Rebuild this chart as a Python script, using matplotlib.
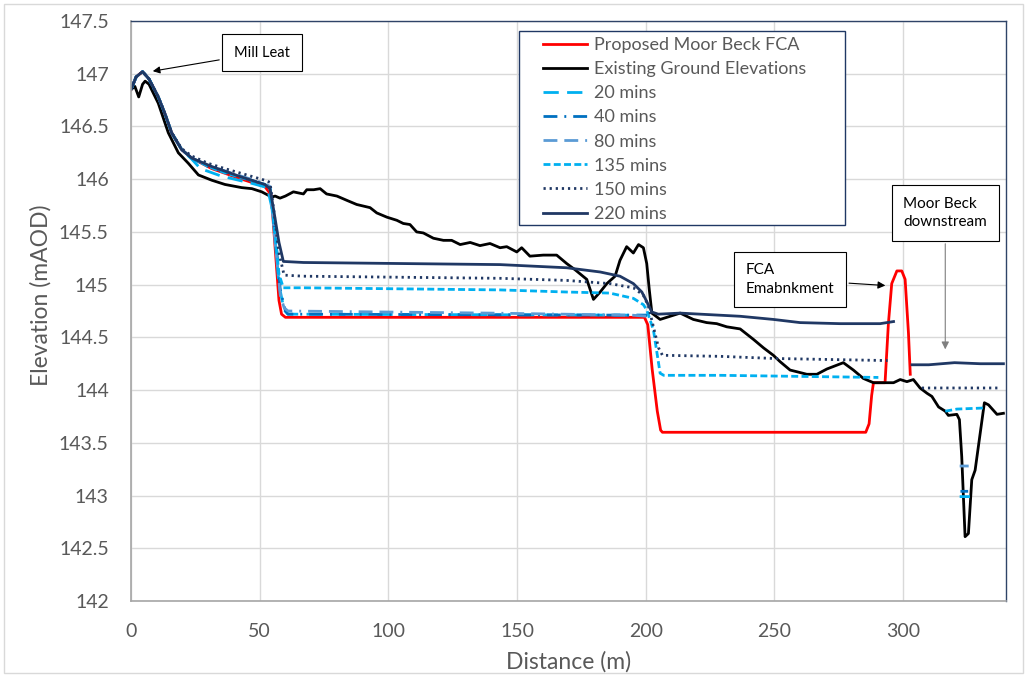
import numpy as np
import matplotlib
matplotlib.use('Agg')
import matplotlib.pyplot as plt
from matplotlib.patches import Rectangle

plt.rcParams['font.family'] = ['Lato', 'DejaVu Sans']

nan = np.nan

# existing ground profile
ground_x = [0, 1.5, 3, 4.5, 5.5, 7, 10.6, 14.5, 18.4, 22.3, 26.2, 31.4, 36.5, 43, 47, 50.8, 54.7, 56,
            57.9, 60, 63.1, 65, 67, 68.3, 71, 73.5, 76, 80, 83.8, 87.7, 92.9, 95.5, 99.4, 103.3, 105.8,
            108.4, 111, 113.6, 117.5, 121.4, 124.6, 127.9, 131.8, 135.6, 139.5, 143.4, 146, 149.9, 151.8,
            155, 160.2, 165.4, 169.3, 172.6, 177.1, 179.7, 182.3, 184.9, 188.1, 190, 192.6, 195.2, 197.2,
            199.1, 200.4, 201.4, 202.4, 205.6, 209.5, 213.4, 218.5, 223.7, 227.6, 231.5, 236.7, 241.9,
            245.8, 249.6, 252.2, 256.1, 259.4, 262.6, 266.5, 270.4, 276.8, 280.7, 284.6, 288.5, 292.4,
            296.3, 298.9, 301.5, 304, 306.6, 309.3, 311.2, 313.8, 316.4, 317.6, 320.9, 321.9, 322.8,
            324.1, 325.4, 326.7, 328, 331.6, 333.2, 336.5, 339]
ground_y = [146.85, 146.88, 146.78, 146.9, 146.93, 146.9, 146.72, 146.44, 146.25, 146.15, 146.04, 145.99,
            145.95, 145.92, 145.91, 145.88, 145.83, 145.84, 145.82, 145.84, 145.88, 145.87, 145.86, 145.9,
            145.9, 145.91, 145.86, 145.84, 145.8, 145.76, 145.73, 145.68, 145.64, 145.61, 145.58, 145.57,
            145.5, 145.49, 145.44, 145.42, 145.42, 145.38, 145.4, 145.37, 145.39, 145.35, 145.36, 145.31,
            145.35, 145.27, 145.28, 145.28, 145.2, 145.14, 145.05, 144.86, 144.93, 145.01, 145.08, 145.23,
            145.36, 145.3, 145.38, 145.35, 145.2, 144.95, 144.73, 144.67, 144.7, 144.73, 144.67, 144.64,
            144.63, 144.6, 144.58, 144.48, 144.4, 144.33, 144.27, 144.19, 144.17, 144.15, 144.15, 144.2,
            144.26, 144.19, 144.11, 144.07, 144.07, 144.07, 144.1, 144.08, 144.1, 144.02, 143.97, 143.94,
            143.84, 143.8, 143.76, 143.77, 143.72, 143.37, 142.61, 142.64, 143.15, 143.24, 143.88, 143.86,
            143.77, 143.78]

# proposed FCA profile
fca_x = [0, 2, 4.5, 7, 10.6, 13.2, 15.8, 19.7, 23.6, 31.4, 43, 52, 54.5, 57.5, 58.5, 60, 199.5, 200.8, 202.5,
         204.5, 205.8, 206.5, 285.5, 286.8, 287.8, 288.5, 293, 294.3, 295.6, 297.6, 299.5, 300.8, 302.1, 302.8]
fca_y = [146.85, 146.97, 147.02, 146.95, 146.78, 146.62, 146.44, 146.28, 146.2, 146.1, 146.0, 145.93, 145.85,
         144.85, 144.72, 144.69, 144.69, 144.62, 144.2, 143.8, 143.62, 143.6, 143.6, 143.68, 143.95, 144.07,
         144.07, 144.63, 145.01, 145.13, 145.13, 145.05, 144.54, 144.15]

# water levels at each time step (nan = gap in the series)
w20_x = [0, 2, 4.5, 7, 10.6, 13.2, 15.8, 19.7, 23.6, 27, 35, 47, 53, 55, 57.5, 59.5, 61, 200.5, nan, 322, 326]
w20_y = [146.85, 146.97, 147.02, 146.95, 146.78, 146.62, 146.44, 146.28, 146.19, 146.1, 146.03, 145.96,
         145.92, 145.7, 145.0, 144.76, 144.72, 144.71, nan, 142.99, 142.99]

w40_x = [0, 2, 4.5, 7, 10.6, 13.2, 15.8, 19.7, 23.6, 30, 40, 52, 54, 56, 58, 60, 61, 200.5, nan, 322.3, 325.3]
w40_y = [146.85, 146.97, 147.02, 146.95, 146.78, 146.62, 146.44, 146.28, 146.2, 146.12, 146.04, 145.95,
         145.92, 145.5, 144.95, 144.75, 144.72, 144.71, nan, 143.04, 143.04]

w80_x = [0, 2, 4.5, 7, 10.6, 13.2, 15.8, 19.7, 23.6, 30, 40, 52, 54, 56, 58, 59.5, 61, 140, 195, 200.5, nan, 322, 325.5]
w80_y = [146.85, 146.97, 147.02, 146.95, 146.78, 146.62, 146.44, 146.28, 146.2, 146.13, 146.05, 145.96,
         145.93, 145.4, 144.9, 144.78, 144.75, 144.73, 144.71, 144.7, nan, 143.28, 143.28]

w135_x = [0, 2, 4.5, 7, 10.6, 13.2, 15.8, 19.7, 23.6, 30, 36.5, 45, 52, 54, 55.5, 57.5, 59.2, 67, 143.4,
          169.3, 186, 195.2, 199.1, 200.4, 203, 205.6, 207, 229, 290.4, nan, 316.4, 320.9, 331.3]
w135_y = [146.85, 146.97, 147.02, 146.95, 146.78, 146.62, 146.44, 146.28, 146.2, 146.12, 146.06, 146.0,
          145.95, 145.92, 145.6, 145.1, 144.97, 144.97, 144.95, 144.93, 144.92, 144.87, 144.81, 144.76,
          144.57, 144.16, 144.14, 144.14, 144.12, nan, 143.8, 143.82, 143.83]

w150_x = [0, 2, 4.5, 7, 10.6, 13.2, 15.8, 19.7, 23.6, 30, 36.5, 45, 52, 54, 55.5, 57.5, 59.5, 67, 143.4,
          169.3, 186, 195.2, 199.1, 201, 203, 205, 206.5, 229, 249.6, 294, nan, 307.3, 338]
w150_y = [146.85, 146.97, 147.02, 146.95, 146.78, 146.62, 146.44, 146.29, 146.22, 146.15, 146.1, 146.04,
          145.99, 145.97, 145.7, 145.3, 145.09, 145.08, 145.06, 145.04, 145.01, 144.97, 144.9, 144.8, 144.6,
          144.4, 144.33, 144.32, 144.3, 144.28, nan, 144.02, 144.02]

w220_x = [0, 2, 4.5, 7, 10.6, 13.2, 15.8, 19.7, 23.6, 31.4, 43, 52, 54, 55.5, 57.5, 59.2, 67, 143.4, 169.3,
          182.3, 190, 195.2, 198.5, 200.4, 202.4, 204.9, 213.4, 236.7, 249.6, 260, 275.5, 291.1, 296.3, nan,
          303.5, 310, 320, 330, 339]
w220_y = [146.85, 146.97, 147.02, 146.95, 146.78, 146.62, 146.44, 146.28, 146.2, 146.12, 146.02, 145.95,
          145.91, 145.7, 145.4, 145.22, 145.21, 145.19, 145.16, 145.12, 145.08, 145.01, 144.93, 144.84,
          144.74, 144.72, 144.73, 144.7, 144.67, 144.64, 144.63, 144.63, 144.65, nan, 144.24, 144.24,
          144.26, 144.25, 144.25]

xticks = [0, 50, 100, 150, 200, 250, 300]
yticks = [142, 142.5, 143, 143.5, 144, 144.5, 145, 145.5, 146, 146.5, 147, 147.5]

fig = plt.figure(figsize=(10.27, 6.77), dpi=100)
ax = fig.add_axes([131 / 1027, 1 - 601 / 677, 875 / 1027, 580 / 677])

lw = 2.0
ax.plot(fca_x, fca_y, color='#FF0000', lw=lw, label='Proposed Moor Beck FCA')
ax.plot(ground_x, ground_y, color='black', lw=lw, label='Existing Ground Elevations')
ax.plot(w20_x, w20_y, color='#00B0F0', lw=lw, ls=(0, (5.5, 3)), label='20 mins')
ax.plot(w40_x, w40_y, color='#0070C0', lw=lw, ls=(0, (5, 2.5, 0.7, 2.5)), label='40 mins')
ax.plot(w80_x, w80_y, color='#5B9BD5', lw=lw, ls=(0, (5, 2.5, 5, 2.5, 0.7, 2.5)), label='80 mins')
ax.plot(w135_x, w135_y, color='#00B0F0', lw=lw, ls=(0, (2.5, 1.2)), label='135 mins')
ax.plot(w150_x, w150_y, color='#203864', lw=lw, ls=(0, (0.8, 1.4)), label='150 mins')
ax.plot(w220_x, w220_y, color='#203864', lw=lw, label='220 mins')

ax.set_xlim(0, 340)
ax.set_ylim(142, 147.5)
ax.set_xticks(xticks)
ax.set_yticks(yticks)
ax.set_yticklabels(['%g' % v for v in yticks])
ax.tick_params(length=0, labelsize=14, labelcolor='#595959', pad=16)
ax.grid(True, color='#D9D9D9', lw=1)
ax.set_axisbelow(True)
for s in ['left', 'bottom']:
    ax.spines[s].set_color('#A6A6A6')
    ax.spines[s].set_linewidth(1.2)
for s in ['top', 'right']:
    ax.spines[s].set_color('#2F4468')
    ax.spines[s].set_linewidth(1.0)

ax.set_xlabel('Distance (m)', fontsize=16.5, color='#595959', labelpad=8)
ax.set_ylabel('Elevation (mAOD)', fontsize=16.5, color='#595959')
ax.yaxis.set_label_coords(-0.091, 0.528)

# legend: frame drawn separately so the inner margins match
leg = ax.legend(loc='upper left', bbox_to_anchor=(0.4709, 0.9724), fontsize=13, frameon=False,
                handlelength=2.45, handletextpad=0.38, labelspacing=0.45, borderpad=0, borderaxespad=0)
for t in leg.get_texts():
    t.set_color('#595959')
ax.add_patch(Rectangle((0.4434, 0.6483), 0.3726, 0.3345, transform=ax.transAxes, fill=False,
                       ec='#203864', lw=1.0, zorder=6))
ax.add_patch(Rectangle((0.4434, 0.6483), 0.3726, 0.3345, transform=ax.transAxes, fc='white',
                       ec='none', zorder=2.5))

box = dict(boxstyle='square,pad=0.8', fc='white', ec='black', lw=0.8)
ax.annotate('Mill Leat', xy=(7.4, 147.02), xytext=(50.9, 147.2), ha='center', va='center',
            fontsize=10.5, bbox=box, arrowprops=dict(arrowstyle='-|>', color='black', lw=0.8))
box2 = dict(boxstyle='square,pad=0.75', fc='white', ec='black', lw=0.8)
ax.annotate('FCA\nEmabnkment', xy=(294.2, 144.99), xytext=(256.1, 145.05), ha='center', va='center',
            multialignment='left', fontsize=11, bbox=box2, linespacing=1.4,
            arrowprops=dict(arrowstyle='-|>', color='black', lw=0.8))
ax.annotate('Moor Beck\ndownstream', xy=(316.4, 144.36), xytext=(316.4, 145.68), ha='center', va='center',
            multialignment='left', fontsize=11, bbox=box2, linespacing=1.4, annotation_clip=False,
            arrowprops=dict(arrowstyle='-|>', color='#7F7F7F', lw=0.8))

fig.patches.append(Rectangle((0.004, 0.006), 0.992, 0.988, transform=fig.transFigure,
                             fill=False, ec='#D9D9D9', lw=1))

fig.savefig('out.png', dpi=100)
